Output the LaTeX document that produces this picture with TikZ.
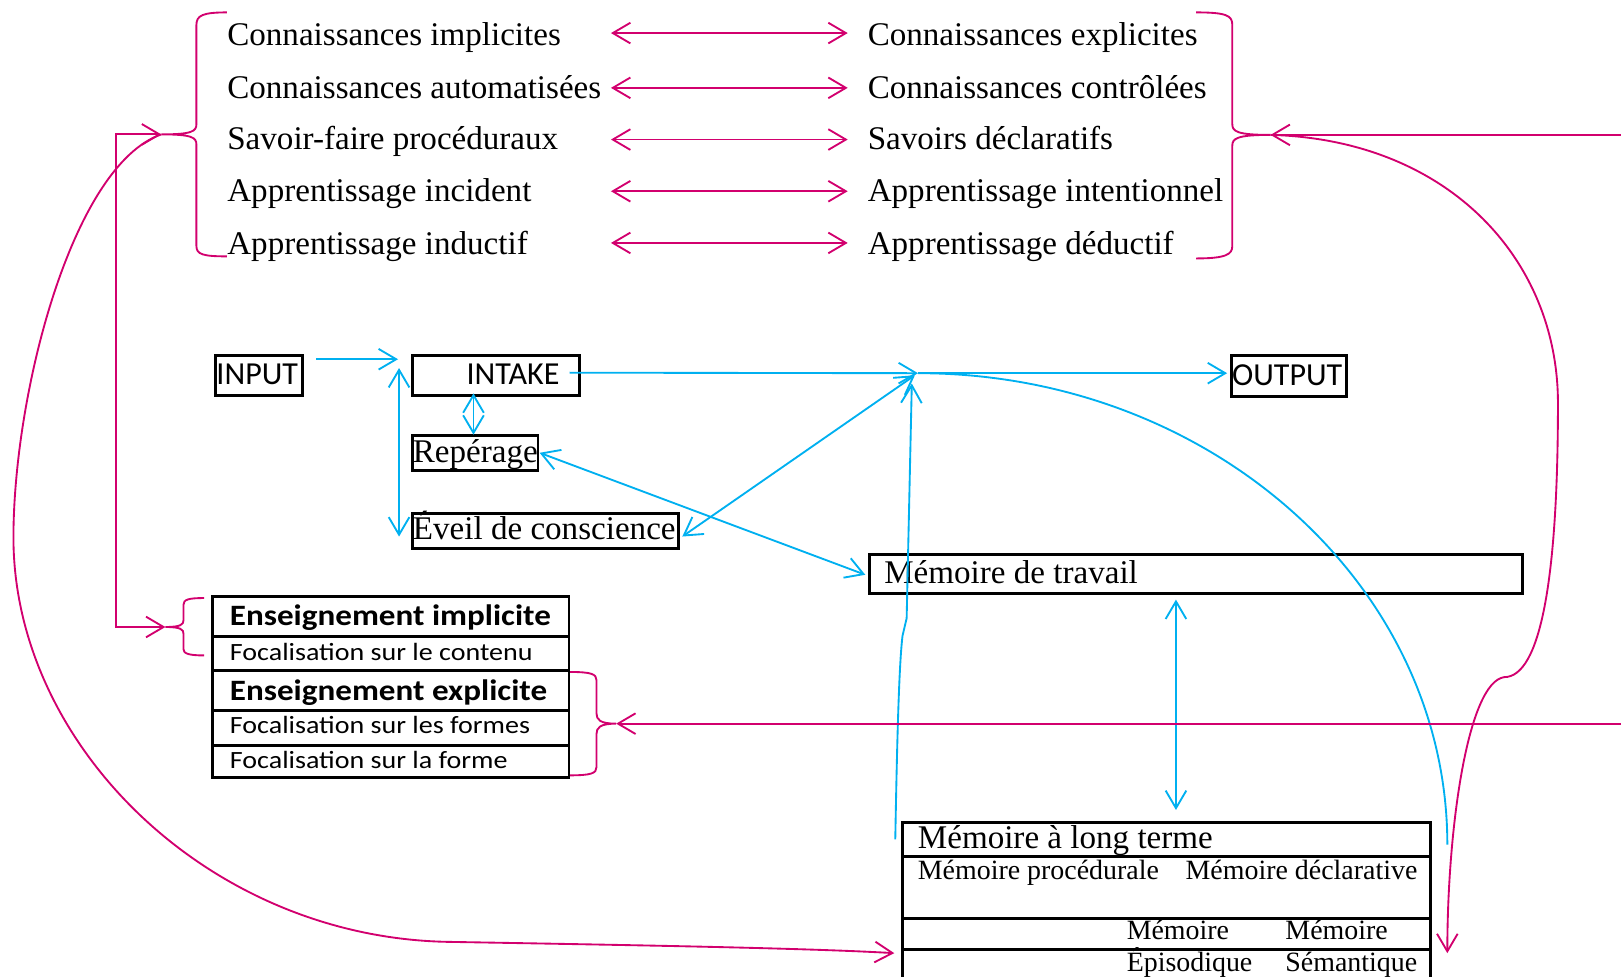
\documentclass[tikz,border=0pt]{standalone}
\usepackage{fontspec}
\setmainfont{Liberation Serif}
\newfontfamily\calibri{Carlito}
\newfontfamily\calibriW[FakeStretch=1.13]{Carlito}
\newfontfamily\calibriB[FakeStretch=1.12]{Carlito}
\usetikzlibrary{arrows.meta}
\definecolor{mag}{RGB}{210,0,110}
\definecolor{cyanb}{RGB}{0,176,240}
\begin{document}
\begin{tikzpicture}[x=0.5pt,y=-0.5pt,
  >={Straight Barb[length=8.5pt,width=10pt]},
  box/.style={draw=black,line width=1.4pt,inner sep=0pt,anchor=north west},
  txt/.style={anchor=base west,inner sep=0pt,font=\fontsize{16}{19}\selectfont},
  sm/.style={anchor=base west,inner sep=0pt,font=\fontsize{13.5}{16}\selectfont},
  sans/.style={anchor=base west,inner sep=0pt,font=\calibri\fontsize{15.5}{18}\selectfont},
  ensb/.style={anchor=base west,inner sep=0pt,font=\calibriB\bfseries\fontsize{14.3}{17}\selectfont},
  ensr/.style={anchor=base west,inner sep=0pt,font=\calibriW\fontsize{12}{14}\selectfont},
  mg/.style={draw=mag,line width=0.9pt},
  bl/.style={draw=cyanb,line width=0.9pt}]
\useasboundingbox (0,0) rectangle (1568,945);

% ---------- top section ----------
\node[txt] (l1) at (219.5,44) {Connaissances implicites};
\node[txt] (l2) at (219.5,95) {Connaissances automatisées};
\node[txt] (l3) at (219.5,145) {Savoir-faire procéduraux};
\node[txt] (l4) at (219.5,195) {Apprentissage incident};
\node[txt] (l5) at (219.5,246) {Apprentissage inductif};
\node[txt] (r1) at (839,44) {Connaissances explicites};
\node[txt] (r2) at (839,95) {Connaissances contrôlées};
\node[txt] (r3) at (839,145) {Savoirs déclaratifs};
\node[txt] (r4) at (839,195) {Apprentissage intentionnel};
\node[txt] (r5) at (839,246) {Apprentissage déductif};
\foreach \y/\n in {32/1,85/2,135/3,185/4,235/5}{
  \coordinate (al\n) at (591,\y);
  \coordinate (ar\n) at (820,\y);
  \draw[mg,<->] (al\n) -- (ar\n);
}

% braces
\coordinate (tipL) at (156,130);
\coordinate (tipR) at (1229,130.5);
\coordinate (tipS) at (160,606.5);
\coordinate (tipE) at (596,700);
\draw[mg] (219.5,12) .. controls (196,12) and (190,15) .. (190,24) -- (190,120)
  .. controls (190,127) and (186,130) .. (tipL)
  .. controls (186,130) and (190,133) .. (190,140) -- (190,238)
  .. controls (190,246) and (196,248) .. (219.5,248);
\draw[mg] (1157,12) .. controls (1186,12) and (1192,15) .. (1192,24) -- (1192,120)
  .. controls (1192,127) and (1196,130.5) .. (tipR)
  .. controls (1196,130.5) and (1192,134) .. (1192,141) -- (1192,238)
  .. controls (1192,246) and (1186,250) .. (1157,250);
\draw[mg] (197.5,578.5) .. controls (182,578.5) and (177.5,580) .. (177.5,585) -- (177.5,600)
  .. controls (177.5,604) and (175,606.5) .. (tipS)
  .. controls (175,606.5) and (177.5,609) .. (177.5,613) -- (177.5,628)
  .. controls (177.5,632) and (182,634) .. (197.5,634);
\draw[mg] (551,650) .. controls (572,650) and (577,652) .. (577,658) -- (577,690)
  .. controls (577,696) and (580,700) .. (tipE)
  .. controls (580,700) and (577,704) .. (577,710) -- (577,742)
  .. controls (577,748) and (572,750) .. (551,750);

% ---------- blue section boxes ----------
\node[box, minimum width=42pt, minimum height=19.25pt] (input) at (207,342.5) {};
\node[sans] (inputt) at (209,371.5) {INPUT};
\node[box, minimum width=80.75pt, minimum height=19.25pt] (intake) at (397.5,342.5) {};
\node[sans] (intaket) at (451,371.5) {INTAKE};
\node[box, minimum width=55.5pt, minimum height=19.75pt] (output) at (1190,342.5) {};
\node[sans] (outputt) at (1191.5,372.5) {OUTPUT};
\node[box, minimum width=60.75pt, minimum height=17pt] (rep) at (397.5,420) {};
\node[txt] (rept) at (399,447.5) {Repérage};
\node[box, minimum width=128.5pt, minimum height=17pt] (eveil) at (397.5,495.5) {};
\node[txt] (eveilt) at (399,521.5) {Éveil de conscience};
\node[box, minimum width=315.7pt, minimum height=19.2pt] (mdt) at (839.6,534.6) {};
\node[txt] (mdtt) at (855,564) {Mémoire de travail};

% Enseignement table
\node[box, minimum width=172.5pt, minimum height=19pt] (e1) at (204,576) {};
\node[box, minimum width=172.5pt, minimum height=16.5pt] (e2) at (204,614) {};
\node[box, minimum width=172.5pt, minimum height=19.5pt] (e3) at (204,647) {};
\node[box, minimum width=172.5pt, minimum height=17pt] (e4) at (204,686) {};
\node[box, minimum width=172.5pt, minimum height=15.5pt] (e5) at (204,720) {};
\node[ensb] (e1t) at (222,605) {Enseignement implicite};
\node[ensr] (e2t) at (222,638.5) {Focalisation sur le contenu};
\node[ensb] (e3t) at (222,678) {Enseignement explicite};
\node[ensr] (e4t) at (222,710) {Focalisation sur les formes};
\node[ensr] (e5t) at (222,743) {Focalisation sur la forme};

% Memoire a long terme table
\node[box, minimum width=255pt, minimum height=16.5pt] (m1) at (872,794) {};
\node[box, minimum width=255pt, minimum height=30pt] (m2) at (872,827) {};
\node[box, minimum width=255pt, minimum height=15pt] (m3) at (872,887) {};
\node[box, minimum width=255pt, minimum height=25pt] (m4) at (872,917) {};
\node[txt] (m1t) at (887.5,820.5) {Mémoire à long terme};
\node[sm] (m2a) at (887.5,851) {Mémoire procédurale};
\node[sm] (m2b) at (1146.5,851) {Mémoire déclarative};
\node[sm] (m3a) at (1089.5,909) {Mémoire};
\node[sm] (m3b) at (1243,909) {Mémoire};
\node[sm] (m4a) at (1089.5,940) {Épisodique};
\node[sm] (m4b) at (1243,940) {Sémantique};

% ---------- blue connectors ----------
\coordinate (hub) at (888,361);
\coordinate (inS) at (305.7,347.5);
\coordinate (inE) at (385,347.5);
\draw[bl,->] (inS) -- (inE);
\coordinate (intS) at (551,360.5);
\draw[bl,->] (intS) -- (hub);
\coordinate (outE) at (1187,361);
\draw[bl,->] (hub) -- (outE);
\coordinate (v1) at (386,356);
\coordinate (v2) at (386,519);
\draw[bl,<->] (v1) -- (v2);
\coordinate (ir1) at (458,380.5);
\coordinate (ir2) at (458,420.5);
\draw[bl,<->] (ir1) -- (ir2);
\coordinate (rp) at (522,438);
\coordinate (mdtL) at (837,556);
\draw[bl,<->] (rp) -- (mdtL);
\coordinate (ev) at (660,519);
\coordinate (hub2) at (885,363);
\draw[bl,<->] (ev) -- (hub2);
\coordinate (mm1) at (1137.5,580);
\coordinate (mm2) at (1137.5,783.5);
\draw[bl,<->] (mm1) -- (mm2);
\coordinate (mltTop) at (866,812);
\coordinate (hub3) at (882,371);
\draw[bl,->] (mltTop) .. controls (868,700) and (870,640) .. (873,615) -- (877,598) -- (hub3);
\coordinate (mltTR) at (1400,817);
\draw[bl] (hub) .. controls (1170,361) and (1400,565) .. (mltTR);

% ---------- magenta connectors ----------
\coordinate (cornerA) at (112,130);
\coordinate (cornerB) at (112,606.5);
\draw[mg,<->] (tipL) -- (cornerA) -- (cornerB) -- (tipS);
\coordinate (edgeR) at (1568,130.5);
\draw[mg,->] (edgeR) -- (tipR);
\coordinate (edgeE) at (1568,700);
\draw[mg,->] (edgeE) -- (tipE);
\coordinate (mltL) at (865,922);
\draw[mg,->] (tipL) .. controls (70,160) and (13,380) .. (13,520)
  .. controls (13,720) and (200,905) .. (430,911)
  .. controls (600,914) and (780,917) .. (mltL);
\coordinate (mltR) at (1400,922);
\draw[mg,->] (tipR) .. controls (1400,135) and (1507,250) .. (1507,390)
  .. controls (1507,560) and (1490,655) .. (1455,655)
  .. controls (1420,660) and (1400,800) .. (mltR);
\end{tikzpicture}
\end{document}
